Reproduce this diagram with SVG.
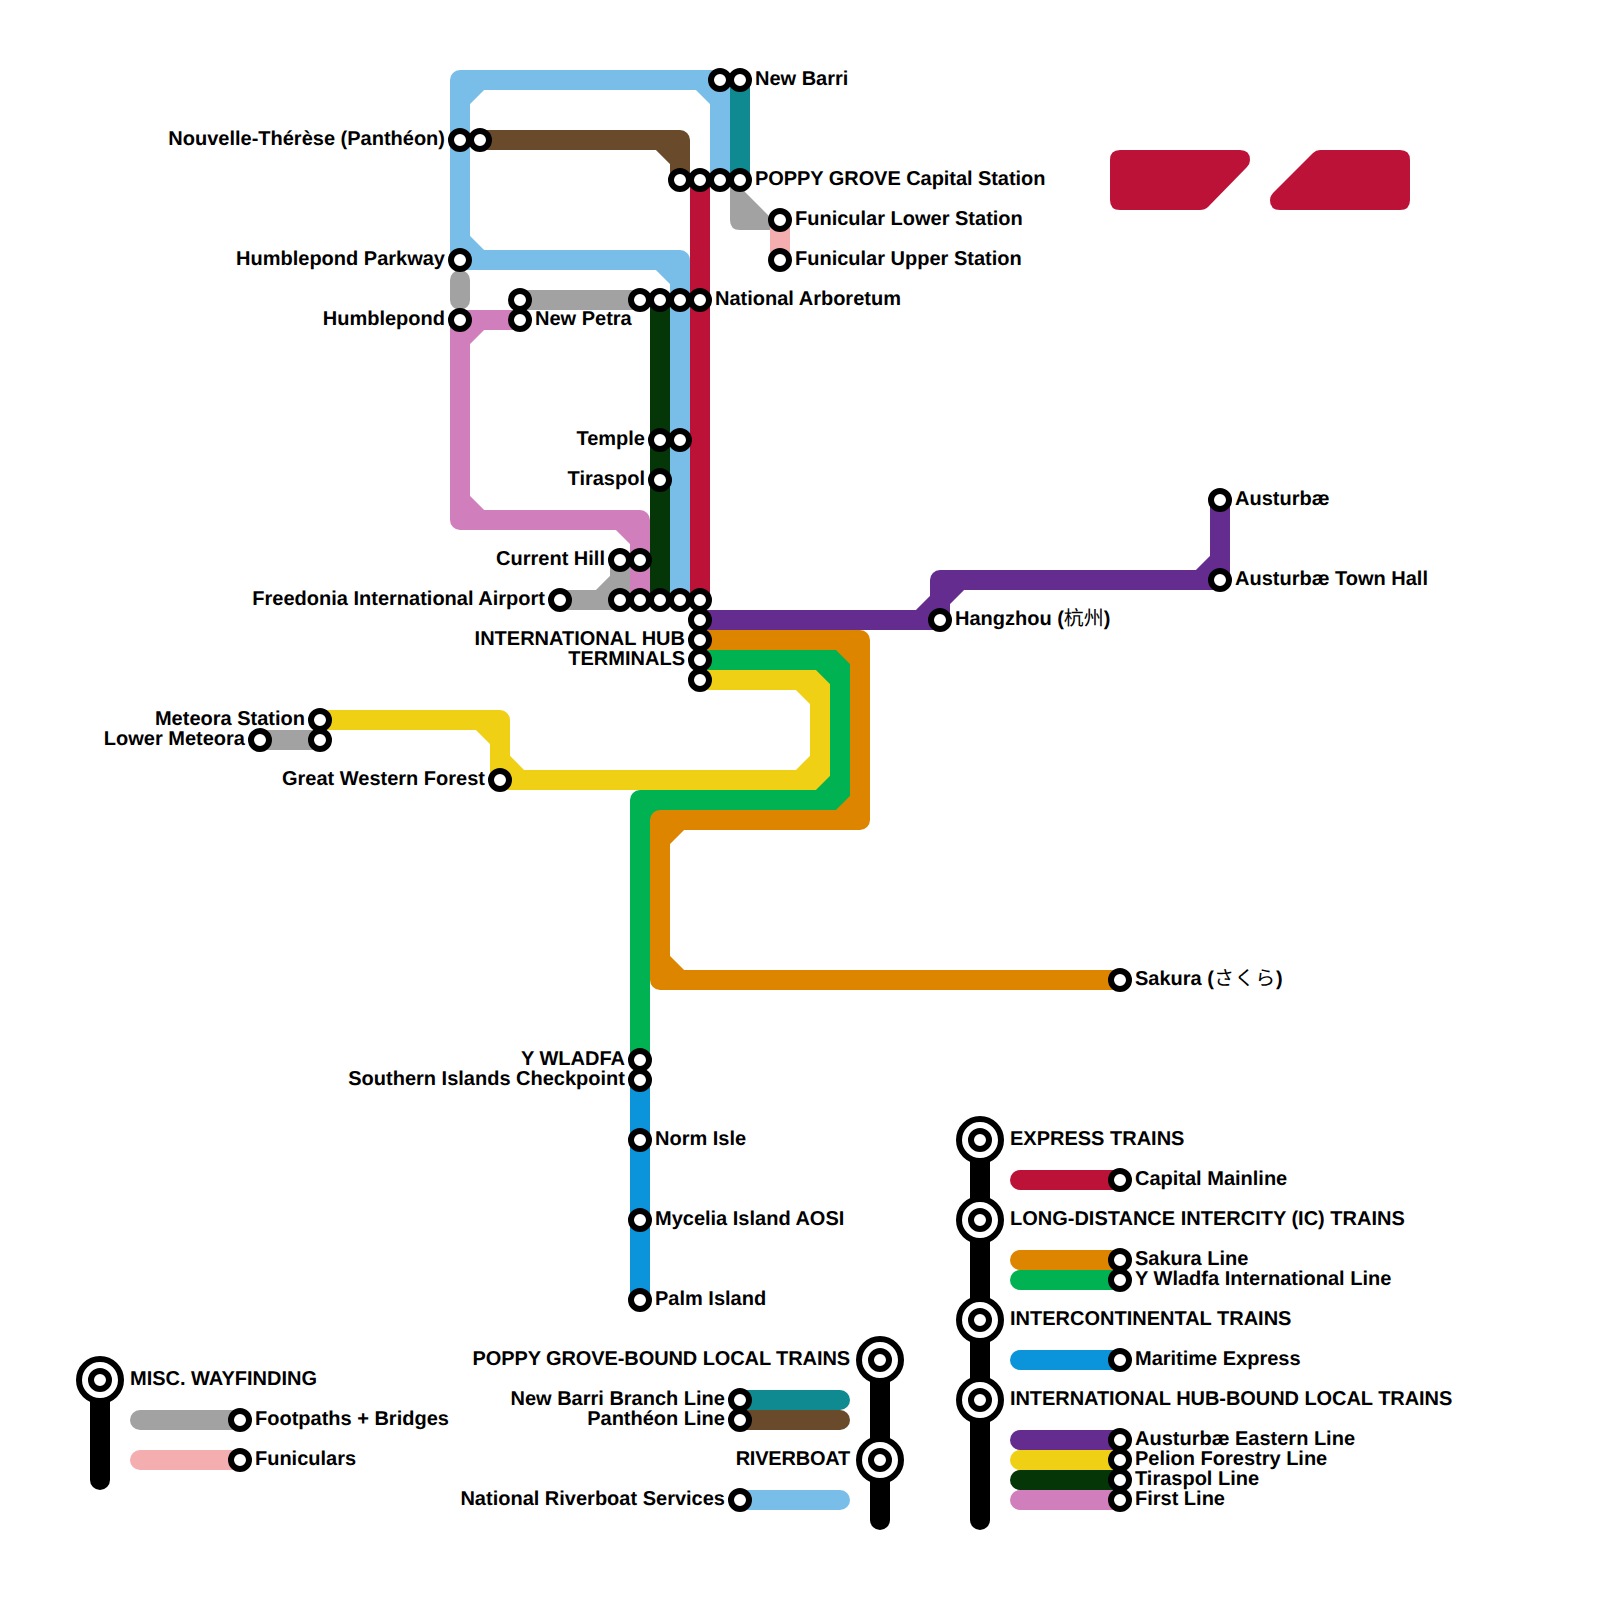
<svg xmlns="http://www.w3.org/2000/svg" width="1600" height="1600" viewBox="0 0 1600 1600">
<style>
.l{fill:none;stroke-width:20;stroke-linecap:round;stroke-linejoin:round}
.s{fill:#fff;stroke:#000;stroke-width:6}
.o{fill:#fff;stroke:#000;stroke-width:6}
.t{font-family:"Liberation Sans","Noto Sans CJK JP","Noto Sans CJK SC",sans-serif;font-size:20px;font-weight:700;fill:#000;text-rendering:geometricPrecision;transform:translateY(-.5px) rotate(.001deg)}
.e{text-anchor:end}
.h{font-weight:400}
.j{font-family:"Noto Sans CJK SC",sans-serif}
.k{letter-spacing:.7px}
.n1{letter-spacing:-.1px}
.n2{letter-spacing:-.06px}
.n3{letter-spacing:-.22px}
.cap{stroke:#bc1238}.lb{stroke:#79bde9}.te{stroke:#0f8a90}.br{stroke:#694a2b}.gy{stroke:#a2a2a2}.fu{stroke:#f4aeb0}.fi{stroke:#d17fbc}.ti{stroke:#053607}.pu{stroke:#652c90}.or{stroke:#de8500}.gr{stroke:#00b251}.ye{stroke:#f0d014}.ma{stroke:#0b94d9}
.bk{stroke:#000}
</style>
<defs>
<g id="st"><circle r="9" class="s"/></g>
<g id="hub"><circle r="21" class="o"/><circle r="9" class="o"/></g>
</defs>
<g id="decor"><path fill="#bc1238" d="M1120 150H1240Q1250 150 1250 160Q1250 164 1247 167L1208 207Q1205 210 1200 210H1120Q1110 210 1110 200V160Q1110 150 1120 150Z"/><path fill="#bc1238" d="M1320 150H1400Q1410 150 1410 160V200Q1410 210 1400 210H1280Q1270 210 1270 200Q1270 196 1273 193L1313 153Q1316 150 1320 150Z"/></g>
<g id="connectors">
<path class="l cap" d="M700 180V600"/>
<path class="l lb" d="M720 180V80H460V260H680V600M720 100L700 80M480 80L460 100M460 240L480 260M660 260L680 280"/>
<path class="l te" d="M740 80V180"/>
<path class="l br" d="M480 140H680V180M660 140L680 160"/>
<path fill="#a2a2a2" d="M730 180H740L741 188L775 222V230H740Q730 230 730 220Z"/>
<path class="l fu" d="M780 220V260"/>
<path class="l gy" d="M460 280V300"/>
<path class="l fi" d="M520 320H460V520H640V600M480 320L460 340M460 500L480 520M620 520L640 540"/>
<path class="l gy" d="M520 300H640"/>
<path class="l ti" d="M660 300V600"/>
<path class="l gy" d="M560 600H620V560M600 600L620 580"/>
<path class="l pu" d="M700 620H940V580H1220V500M920 620L940 600M960 580L940 600M1200 580L1220 560"/>
<path class="l ye" d="M700 680H820V780H500V720H320M800 680L820 700M800 780L820 760M500 760L520 780M480 720L500 740"/>
<path class="l gr" d="M700 660H840V800H640V1060M820 660L840 680M820 800L840 780M660 800L640 820"/>
<path class="l or" d="M700 640H860V820H660V980H1120M840 640L860 660M840 820L860 800M680 820L660 840M660 960L680 980"/>
<path class="l gy" d="M260 740H320"/>
<path class="l ma" d="M640 1080V1300"/>
</g>
<g id="legend-lines">
<path class="l bk" d="M100 1380V1480"/>
<path class="l bk" d="M880 1360V1520"/>
<path class="l bk" d="M980 1140V1520"/>
<path class="l gy" d="M140 1420H240"/>
<path class="l fu" d="M140 1460H240"/>
<path class="l te" d="M740 1400H840"/>
<path class="l br" d="M740 1420H840"/>
<path class="l lb" d="M740 1500H840"/>
<path class="l cap" d="M1020 1180H1120"/>
<path class="l or" d="M1020 1260H1120"/>
<path class="l gr" d="M1020 1280H1120"/>
<path class="l ma" d="M1020 1360H1120"/>
<path class="l pu" d="M1020 1440H1120"/>
<path class="l ye" d="M1020 1460H1120"/>
<path class="l ti" d="M1020 1480H1120"/>
<path class="l fi" d="M1020 1500H1120"/>
</g>
<g id="new-barri"><use href="#st" x="720" y="80"/><use href="#st" x="740" y="80"/><text class="t" x="755" y="85">New Barri</text></g>
<g id="nouvelle"><use href="#st" x="460" y="140"/><use href="#st" x="480" y="140"/><text class="t e" x="445" y="145">Nouvelle-Thérèse (Panthéon)</text></g>
<g id="poppy-grove"><use href="#st" x="680" y="180"/><use href="#st" x="700" y="180"/><use href="#st" x="720" y="180"/><use href="#st" x="740" y="180"/><text class="t n2" x="755" y="185">POPPY GROVE Capital Station</text></g>
<g id="funicular-lower"><use href="#st" x="780" y="220"/><text class="t" x="795" y="225">Funicular Lower Station</text></g>
<g id="funicular-upper"><use href="#st" x="780" y="260"/><text class="t" x="795" y="265">Funicular Upper Station</text></g>
<g id="humblepond-parkway"><use href="#st" x="460" y="260"/><text class="t e" x="445" y="265">Humblepond Parkway</text></g>
<g id="humblepond"><use href="#st" x="460" y="320"/><text class="t e" x="445" y="325">Humblepond</text></g>
<g id="new-petra"><use href="#st" x="520" y="300"/><use href="#st" x="520" y="320"/><text class="t" x="535" y="325">New Petra</text></g>
<g id="national-arboretum"><use href="#st" x="640" y="300"/><use href="#st" x="660" y="300"/><use href="#st" x="680" y="300"/><use href="#st" x="700" y="300"/><text class="t" x="715" y="305">National Arboretum</text></g>
<g id="temple"><use href="#st" x="660" y="440"/><use href="#st" x="680" y="440"/><text class="t e" x="645" y="445">Temple</text></g>
<g id="tiraspol"><use href="#st" x="660" y="480"/><text class="t e" x="645" y="485">Tiraspol</text></g>
<g id="current-hill"><use href="#st" x="620" y="560"/><use href="#st" x="640" y="560"/><text class="t e" x="605" y="565">Current Hill</text></g>
<g id="freedonia"><use href="#st" x="560" y="600"/><text class="t e" x="545" y="605">Freedonia International Airport</text></g>
<g id="international-hub"><use href="#st" x="620" y="600"/><use href="#st" x="640" y="600"/><use href="#st" x="660" y="600"/><use href="#st" x="680" y="600"/><use href="#st" x="700" y="600"/><use href="#st" x="700" y="620"/><use href="#st" x="700" y="640"/><use href="#st" x="700" y="660"/><use href="#st" x="700" y="680"/><text class="t e" x="685" y="645">INTERNATIONAL HUB</text><text class="t e" x="685" y="665">TERMINALS</text></g>
<g id="hangzhou"><use href="#st" x="940" y="620"/><text class="t" x="955" y="625">Hangzhou (<tspan class="h j">杭州</tspan>)</text></g>
<g id="austurbae"><use href="#st" x="1220" y="500"/><text class="t" x="1235" y="505">Austurbæ</text></g>
<g id="austurbae-town-hall"><use href="#st" x="1220" y="580"/><text class="t" x="1235" y="585">Austurbæ Town Hall</text></g>
<g id="meteora"><use href="#st" x="320" y="720"/><text class="t e" x="305" y="725">Meteora Station</text></g>
<g id="lower-meteora"><use href="#st" x="260" y="740"/><use href="#st" x="320" y="740"/><text class="t e" x="245" y="745">Lower Meteora</text></g>
<g id="great-western"><use href="#st" x="500" y="780"/><text class="t e" x="485" y="785">Great Western Forest</text></g>
<g id="sakura"><use href="#st" x="1120" y="980"/><text class="t" x="1135" y="985">Sakura (<tspan class="h k">さくら</tspan>)</text></g>
<g id="y-wladfa"><use href="#st" x="640" y="1060"/><text class="t e" x="625" y="1065">Y WLADFA</text></g>
<g id="southern-islands"><use href="#st" x="640" y="1080"/><text class="t e" x="625" y="1085">Southern Islands Checkpoint</text></g>
<g id="norm-isle"><use href="#st" x="640" y="1140"/><text class="t" x="655" y="1145">Norm Isle</text></g>
<g id="mycelia"><use href="#st" x="640" y="1220"/><text class="t" x="655" y="1225">Mycelia Island AOSI</text></g>
<g id="palm-island"><use href="#st" x="640" y="1300"/><text class="t" x="655" y="1305">Palm Island</text></g>
<g id="legend-misc"><use href="#hub" x="100" y="1380"/><text class="t" x="130" y="1385">MISC. WAYFINDING</text><use href="#st" x="240" y="1420"/><text class="t" x="255" y="1425">Footpaths + Bridges</text><use href="#st" x="240" y="1460"/><text class="t" x="255" y="1465">Funiculars</text></g>
<g id="legend-local"><use href="#hub" x="880" y="1360"/><text class="t e n1" x="850" y="1365">POPPY GROVE-BOUND LOCAL TRAINS</text><use href="#st" x="740" y="1400"/><text class="t e" x="725" y="1405">New Barri Branch Line</text><use href="#st" x="740" y="1420"/><text class="t e" x="725" y="1425">Panthéon Line</text><use href="#hub" x="880" y="1460"/><text class="t e n3" x="850" y="1465">RIVERBOAT</text><use href="#st" x="740" y="1500"/><text class="t e" x="725" y="1505">National Riverboat Services</text></g>
<g id="legend-express"><use href="#hub" x="980" y="1140"/><text class="t" x="1010" y="1145">EXPRESS TRAINS</text><use href="#st" x="1120" y="1180"/><text class="t" x="1135" y="1185">Capital Mainline</text></g>
<g id="legend-ic"><use href="#hub" x="980" y="1220"/><text class="t" x="1010" y="1225">LONG-DISTANCE INTERCITY (IC) TRAINS</text><use href="#st" x="1120" y="1260"/><text class="t" x="1135" y="1265">Sakura Line</text><use href="#st" x="1120" y="1280"/><text class="t" x="1135" y="1285">Y Wladfa International Line</text></g>
<g id="legend-intercontinental"><use href="#hub" x="980" y="1320"/><text class="t" x="1010" y="1325">INTERCONTINENTAL TRAINS</text><use href="#st" x="1120" y="1360"/><text class="t" x="1135" y="1365">Maritime Express</text></g>
<g id="legend-hub"><use href="#hub" x="980" y="1400"/><text class="t n2" x="1010" y="1405">INTERNATIONAL HUB-BOUND LOCAL TRAINS</text><use href="#st" x="1120" y="1440"/><text class="t" x="1135" y="1445">Austurbæ Eastern Line</text><use href="#st" x="1120" y="1460"/><text class="t" x="1135" y="1465">Pelion Forestry Line</text><use href="#st" x="1120" y="1480"/><text class="t" x="1135" y="1485">Tiraspol Line</text><use href="#st" x="1120" y="1500"/><text class="t" x="1135" y="1505">First Line</text></g>
</svg>
